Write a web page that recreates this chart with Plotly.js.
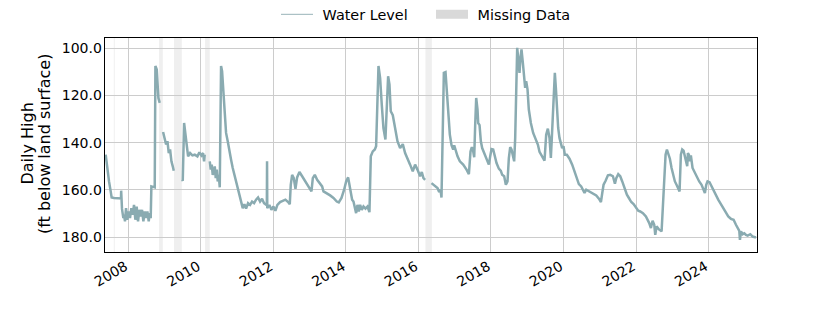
<!DOCTYPE html>
<html>
<head>
<meta charset="utf-8">
<script src="https://cdn.plot.ly/plotly-3.0.1.min.js"></script>
<style>html,body{margin:0;padding:0;background:#fff;}#chart{width:840px;height:315px;}</style>
</head>
<body>
<div id="chart"></div>
<script>
// Decimal-year dates of the daily-high readings (null value = break at missing data)
const years = [
2007.376,2007.400,2007.422,2007.468,2007.514,2007.540,2007.606,2007.790,2007.798,2007.803,2007.812,2007.826,2007.863,
2007.881,2007.909,2007.937,2007.973,2008.010,2008.047,2008.084,2008.121,2008.157,2008.194,2008.231,2008.268,2008.304,
2008.341,2008.378,2008.415,2008.452,2008.488,2008.525,2008.562,2008.590,2008.617,2008.635,2008.727,2008.746,2008.783,
2008.828,2008.865,2008.900,
2008.957,2009.003,2009.040,2009.077,2009.114,2009.150,2009.187,2009.224,2009.252,2009.360,
2009.481,2009.500,2009.537,2009.573,2009.610,2009.647,2009.702,2009.766,2009.831,2009.904,2009.959,2010.015,2010.061,
2010.088,2010.107,2010.180,
2010.245,2010.272,2010.300,2010.327,2010.364,2010.383,2010.410,2010.438,2010.465,2010.493,2010.521,2010.557,2010.585,
2010.621,2010.658,2010.695,2010.741,2010.787,2010.833,2010.879,2010.925,2010.971,2011.017,2011.063,2011.109,2011.155,
2011.201,2011.247,2011.302,2011.357,2011.412,2011.468,2011.523,2011.578,2011.633,2011.688,2011.743,2011.799,2011.820,
2011.826,2011.832,2011.890,2011.946,2012.001,2012.056,2012.111,2012.185,2012.258,2012.332,2012.406,2012.452,2012.479,
2012.516,2012.562,2012.608,2012.654,2012.718,2012.792,2012.884,2012.976,2013.049,2013.086,2013.141,2013.206,2013.270,
2013.343,2013.380,2013.472,2013.564,2013.656,2013.748,2013.803,2013.877,2013.950,2014.006,2014.061,2014.097,2014.134,
2014.171,2014.208,2014.245,2014.281,2014.318,2014.355,2014.392,2014.438,2014.484,2014.539,2014.594,2014.649,2014.686,
2014.741,2014.797,2014.833,2014.898,2014.943,2014.989,2015.035,2015.090,2015.127,2015.164,2015.201,2015.237,2015.293,
2015.357,2015.422,2015.495,2015.569,2015.633,2015.697,2015.771,2015.844,2015.909,2015.973,2016.047,2016.093,2016.139,
2016.185,2016.280,
2016.360,2016.452,2016.525,2016.571,2016.608,2016.635,2016.672,2016.700,2016.746,2016.783,2016.819,2016.865,2016.911,
2016.957,2016.985,2017.021,2017.077,2017.141,2017.233,2017.325,2017.390,2017.435,2017.472,2017.509,2017.537,2017.564,
2017.592,2017.628,2017.647,2017.684,2017.720,2017.757,2017.831,2017.877,2017.941,2017.978,2018.014,2018.061,2018.107,
2018.153,2018.217,2018.272,2018.309,2018.364,2018.410,2018.456,2018.493,2018.530,2018.566,2018.612,2018.640,2018.668,
2018.695,2018.723,2018.750,2018.787,2018.814,2018.842,2018.879,2018.916,2018.943,2018.971,2019.008,2019.044,2019.100,
2019.164,2019.228,2019.293,2019.339,2019.412,2019.477,2019.523,2019.569,2019.615,2019.652,2019.679,2019.725,2019.762,
2019.790,2019.817,2019.854,2019.890,2019.927,2019.964,2020.001,2020.038,2020.093,2020.166,2020.240,2020.304,2020.369,
2020.424,2020.488,2020.534,2020.580,2020.626,2020.700,2020.764,2020.828,2020.902,2020.976,2021.031,2021.068,2021.104,
2021.160,2021.224,2021.288,2021.362,2021.417,2021.454,2021.509,2021.564,2021.619,2021.684,2021.748,2021.803,2021.868,
2021.932,2022.006,2022.061,2022.116,2022.190,2022.272,2022.318,2022.364,2022.410,2022.456,2022.502,2022.530,2022.567,
2022.640,2022.705,2022.741,2022.778,2022.815,2022.852,2022.888,2022.934,2022.980,2023.035,2023.072,2023.127,2023.164,
2023.201,2023.237,2023.274,2023.311,2023.348,2023.385,2023.412,2023.431,2023.458,2023.486,2023.513,2023.559,2023.624,
2023.679,2023.743,2023.808,2023.863,2023.900,2023.937,2023.973,2024.028,2024.083,2024.139,2024.203,2024.267,2024.341,
2024.414,2024.479,2024.543,2024.617,2024.690,2024.755,2024.801,2024.847,2024.865,2024.893,2024.939,2024.985,2025.031,
2025.077,2025.150,2025.215,2025.307
];
// Daily high water level, ft below land surface
const level = [
145.1,148.5,152.1,156.4,160.6,163.2,163.4,163.6,163.6,160.3,166.3,168.0,171.9,
170.5,173.3,167.7,172.6,169.1,171.9,167.7,170.5,166.3,172.6,167.0,173.3,168.4,
171.2,168.4,173.3,169.1,171.9,169.1,173.3,169.8,171.9,158.5,158.9,107.6,109.1,
121.1,123.2,null,
135.5,138.0,140.8,139.4,144.4,142.9,147.9,150.0,151.9,null,
155.7,156.1,131.7,136.6,142.3,145.8,144.4,145.4,145.1,145.8,144.1,145.4,144.4,
147.9,145.1,null,
147.9,151.4,149.3,153.6,152.1,150.0,155.0,151.4,156.4,153.6,158.9,107.6,109.8,
118.2,128.1,135.9,139.4,144.4,147.2,150.7,153.6,156.4,158.5,161.3,164.9,167.7,
166.0,167.9,165.6,166.3,164.9,165.6,164.1,163.2,164.9,163.7,165.6,166.3,166.5,
147.9,167.7,166.3,168.4,167.0,168.8,166.3,165.1,164.6,164.1,165.1,166.0,157.8,
153.6,155.0,159.5,154.7,152.4,154.2,156.4,158.5,160.6,155.0,153.6,155.7,157.1,
158.5,160.6,161.3,162.3,163.4,164.9,165.3,163.4,159.9,156.4,154.7,157.8,162.0,
164.1,164.9,167.4,169.8,166.3,169.1,166.3,168.4,167.0,167.9,167.0,169.4,145.8,
143.7,142.9,141.5,107.6,112.6,123.9,133.8,138.7,123.9,111.9,115.4,126.7,128.4,
133.8,139.4,142.3,140.6,144.4,146.5,149.3,152.1,149.3,151.4,154.2,152.4,155.0,
155.7,null,
157.1,158.1,159.2,160.9,159.9,163.2,131.0,110.5,110.2,119.7,129.5,136.6,141.1,
142.9,141.1,142.9,145.8,147.9,149.3,151.4,153.3,143.7,141.9,143.7,146.2,132.4,
121.1,126.0,131.7,132.6,139.4,142.3,145.1,147.2,149.3,145.8,142.7,142.9,145.8,
148.6,151.0,151.9,153.6,154.2,157.8,156.4,146.5,141.9,142.9,145.8,147.9,138.0,
109.8,99.9,104.1,110.5,104.1,100.6,106.2,112.6,116.8,114.0,117.5,126.0,131.7,
135.9,138.7,140.8,143.9,145.8,147.6,136.6,134.1,138.0,146.5,138.0,120.4,110.5,
116.8,126.7,133.8,138.0,140.6,142.3,141.5,145.1,145.1,146.8,149.3,152.1,155.7,
157.5,158.5,159.9,161.3,159.9,160.6,160.9,161.5,162.3,163.7,165.1,161.3,157.8,
156.1,153.8,153.6,154.2,157.4,155.0,153.3,154.2,156.4,159.2,162.0,163.4,165.1,
166.0,167.7,168.8,169.1,169.8,171.2,172.6,174.0,176.1,173.0,174.7,179.0,175.4,
176.8,177.5,166.3,155.0,145.1,142.9,144.4,146.8,150.7,153.6,156.4,158.1,159.5,
160.6,145.1,142.9,143.4,145.8,147.9,150.0,144.4,145.1,147.9,145.4,150.7,152.8,
155.0,156.4,157.8,159.9,161.3,157.8,156.4,156.7,158.5,160.6,162.7,164.1,166.0,
167.7,169.4,171.2,172.2,172.6,174.7,176.1,177.3,181.1,177.5,178.7,178.3,179.0,
179.3,178.7,179.7,180.1
];
// Missing-data periods (decimal years)
const gapStart = [2007.600, 2008.847, 2009.260, 2010.116, 2016.193];
const gapEnd   = [2007.625, 2008.949, 2009.473, 2010.245, 2016.370];
const yTicks = [100, 120, 140, 160, 180];
const yTitleLines = ['Daily High', '(ft below land surface)'];

function toDate(v) {
  const y = Math.floor(v);
  const a = Date.UTC(y, 0, 1), b = Date.UTC(y + 1, 0, 1);
  return new Date(a + (v - y) * (b - a)).toISOString().replace('T', ' ').slice(0, 19);
}
const xDates = years.map(toDate);

const lineColor = '#8aabb1';
const font = 'DejaVu Sans, Verdana, sans-serif';

const shapes = gapStart.map((s, i) => ({
  type: 'rect', xref: 'x', yref: 'paper',
  x0: toDate(s), x1: toDate(gapEnd[i]), y0: 0, y1: 1,
  fillcolor: '#efefef', line: {width: 0}, layer: 'below'
}));

const traces = [
  {x: xDates, y: level, type: 'scatter', mode: 'lines', connectgaps: false,
   line: {color: lineColor, width: 2.5}, showlegend: false, hoverinfo: 'x+y'},
  {x: [null], y: [null], type: 'scatter', mode: 'lines', name: '\u00a0Water Level',
   line: {color: '#98b3b8', width: 1}},
  {x: [null], y: [null], type: 'scatter', mode: 'lines', name: '\u00a0Missing Data',
   line: {color: '#d9d9d9', width: 9}}
];

const titleX = [-0.1196, -0.0928];
const annotations = yTitleLines.map((t, i) => ({
  text: t, xref: 'paper', yref: 'paper', x: titleX[i], y: 0.507,
  xanchor: 'center', yanchor: 'middle', textangle: -90, showarrow: false,
  font: {family: font, size: 16, color: '#000'}
}));

const layout = {
  width: 840, height: 315,
  margin: {l: 105, r: 83, t: 38, b: 63, pad: 0, autoexpand: false},
  paper_bgcolor: '#fff', plot_bgcolor: '#fff',
  font: {family: font, size: 14, color: '#000'},
  showlegend: true,
  legend: {orientation: 'h', x: 0.5, xanchor: 'center', y: 1.11, yanchor: 'middle',
           itemwidth: 32, entrywidth: 108, entrywidthmode: 'pixels',
           font: {family: font, size: 14.4, color: '#000'}, bgcolor: 'rgba(0,0,0,0)'},
  shapes: shapes,
  annotations: annotations,
  xaxis: {
    type: 'date',
    range: [toDate(2007.357), toDate(2025.335)],
    dtick: 'M24', tick0: '2008-01-01', tickformat: '%Y', tickangle: -30,
    ticklabelshift: -3,
    showgrid: true, gridcolor: '#cccccc', gridwidth: 1,
    showline: true, linecolor: '#000', linewidth: 1.3, mirror: true,
    ticks: '', zeroline: false,
    tickfont: {family: font, size: 14, color: '#000'}
  },
  yaxis: {
    range: [186.23, 95.76],
    tickvals: yTicks, tickformat: '.1f',
    showgrid: true, gridcolor: '#cccccc', gridwidth: 1,
    showline: true, linecolor: '#000', linewidth: 1.3, mirror: true,
    ticks: '', zeroline: false, ticklabelstandoff: -1,
    tickfont: {family: font, size: 14, color: '#000'}
  }
};

Plotly.newPlot('chart', traces, layout, {staticPlot: true, displayModeBar: false});
</script>
</body>
</html>
